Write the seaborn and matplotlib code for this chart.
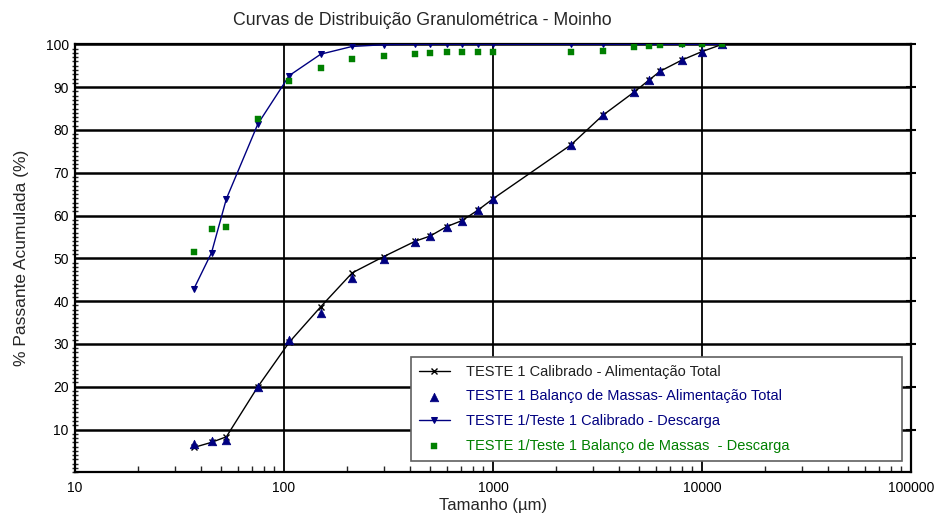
import numpy as np
import pandas as pd
import matplotlib
matplotlib.use("Agg")
import matplotlib.pyplot as plt
import seaborn as sns
from matplotlib.ticker import LogLocator, MultipleLocator, FixedLocator, NullFormatter

# sieve sizes (um)
SIZES = [37, 45, 53, 75, 106, 150, 212, 300, 425, 500, 600, 710, 850, 1000,
         2360, 3350, 4750, 5600, 6300, 8000, 10000, 12500]

# feed - calibrated curve
FEED_CALIB = [5.8, 7.0, 8.3, 20.0, 30.4, 38.7, 46.6, 50.4, 54.0, 55.2, 57.4, 58.8,
              61.3, 63.9, 76.5, 83.4, 88.9, 91.7, 93.7, 96.3, 98.3, 100.0]
# feed - mass balance points
FEED_MB = [6.6, 7.4, 7.6, 20.0, 30.8, 37.3, 45.4, 49.8, 53.8, 55.1, 57.4, 58.7,
           61.3, 63.8, 76.4, 83.4, 88.9, 91.7, 93.8, 96.3, 98.3, 100.0]
# discharge - calibrated curve
DISCH_CALIB = [42.8, 51.3, 63.9, 81.4, 92.7, 97.7, 99.5, 99.9, 100.0, 100.0, 100.0, 100.0,
               100.0, 100.0, 100.0, 100.0, 100.0, 100.0, 100.0, 100.0, 100.0, 100.0]
# discharge - mass balance points
DISCH_MB = [51.5, 56.8, 57.3, 82.5, 91.4, 94.4, 96.6, 97.3, 97.8, 97.9, 98.1, 98.2,
            98.2, 98.2, 98.2, 98.4, 99.3, 99.6, 99.8, 100.0, 100.0, 100.0]

LABELS = [
    "TESTE 1 Calibrado - Alimentação Total",
    "TESTE 1 Balanço de Massas- Alimentação Total",
    "TESTE 1/Teste 1 Calibrado - Descarga",
    "TESTE 1/Teste 1 Balanço de Massas  - Descarga",
]

NAVY = "#000080"
GREEN = "#008000"

sns.set_style("white")
plt.rcParams["font.family"] = ["Liberation Sans", "DejaVu Sans"]

df = pd.DataFrame({
    "size": SIZES,
    "feed_calib": FEED_CALIB,
    "feed_mb": FEED_MB,
    "disch_calib": DISCH_CALIB,
    "disch_mb": DISCH_MB,
})

fig = plt.figure(figsize=(9.35, 5.17), dpi=100)
ax = fig.add_axes([75 / 935, 1 - 472.3 / 517, (911 - 75) / 935, (472.3 - 44.3) / 517])

sns.lineplot(data=df, x="size", y="feed_calib", ax=ax, color="black", lw=1.0,
             marker="x", markersize=4, mew=1.0, mec="black", label=LABELS[0], zorder=4)
sns.scatterplot(data=df, x="size", y="feed_mb", ax=ax, color=NAVY, marker="^", s=38,
                edgecolor=NAVY, linewidth=0.5, label=LABELS[1], zorder=5)
sns.lineplot(data=df, x="size", y="disch_calib", ax=ax, color=NAVY, lw=1.0,
             marker="v", markersize=4, mec=NAVY, mfc=NAVY, label=LABELS[2], zorder=4)
sns.scatterplot(data=df, x="size", y="disch_mb", ax=ax, color=GREEN, marker="s", s=22,
                edgecolor=GREEN, linewidth=0.3, label=LABELS[3], zorder=5)

ax.set_xscale("log")
ax.set_xlim(10, 100000)
ax.set_ylim(0, 100)

ax.xaxis.set_minor_locator(LogLocator(base=10, subs=np.arange(2, 10), numticks=20))
ax.xaxis.set_minor_formatter(NullFormatter())
ax.set_xticks([10, 100, 1000, 10000, 100000])
ax.set_xticklabels(["10", "100", "1000", "10000", "100000"])

ax.yaxis.set_major_locator(FixedLocator(np.arange(10, 101, 10)))
ax.yaxis.set_minor_locator(MultipleLocator(1))

# grid as in the original: heavy horizontal lines, decade verticals
for yv in range(10, 101, 10):
    ax.axhline(yv, color="black", lw=1.8, zorder=1)
for xv in [100, 1000, 10000]:
    ax.axvline(xv, color="black", lw=1.3, zorder=1)

for sp in ax.spines.values():
    sp.set_color("black")
    sp.set_linewidth(1.6)

ax.tick_params(axis="both", which="major", direction="inout", length=7, width=1.5,
               labelsize=10, colors="black", right=True)
ax.tick_params(axis="x", which="major", pad=3)
ax.tick_params(axis="y", which="major", pad=1)
ax.tick_params(axis="y", which="minor", direction="inout", length=5, width=1.0, left=True)
ax.tick_params(axis="x", which="minor", direction="in", length=4, width=1.0, bottom=True)

ax.set_xlabel("Tamanho (µm)", fontsize=12, labelpad=2)
ax.set_ylabel("% Passante Acumulada (%)", fontsize=12.5, labelpad=12)
fig.text(0.452, 0.961, "Curvas de Distribuição Granulométrica - Moinho",
         ha="center", va="center", fontsize=12.8)

handles, labels = ax.get_legend_handles_labels()
x0 = (411 - 75) / 836
y0 = (472.3 - 461) / 428
w = (902 - 411) / 836
leg = ax.legend(handles, labels, loc="lower left", mode="expand",
                bbox_to_anchor=(x0, y0, w, 0.25),
                borderaxespad=0, fancybox=False, framealpha=1, edgecolor="#606060",
                fontsize=10.5, labelspacing=0.74, handlelength=2.1, handletextpad=1.1,
                borderpad=0.55)
leg.get_frame().set_linewidth(1.2)
leg.set_zorder(10)
for txt, col in zip(leg.get_texts(), ["#202020", NAVY, NAVY, GREEN]):
    txt.set_color(col)

fig.savefig("out.png", dpi=100)
